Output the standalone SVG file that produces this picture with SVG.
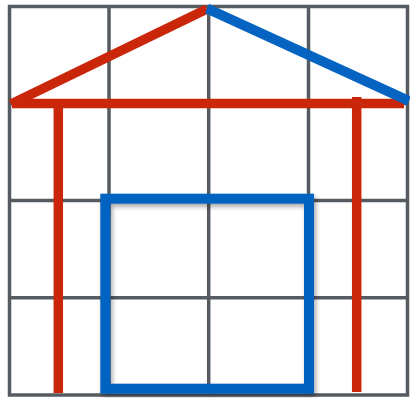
<svg xmlns="http://www.w3.org/2000/svg" width="410" height="398" viewBox="0 0 410 398">
<defs>
<style>
.grid{stroke:#565a61;stroke-width:3.5;fill:none}
.red{stroke:#c9260a;stroke-width:9.5;fill:none;stroke-linecap:butt}
.blue{stroke:#0563c1;stroke-width:10;fill:none}
</style>
<filter id="sh" x="-10%" y="-10%" width="130%" height="130%">
<feGaussianBlur in="SourceAlpha" stdDeviation="2.5"/>
<feOffset dx="2" dy="3" result="b"/>
<feComponentTransfer><feFuncA type="linear" slope="0.35"/></feComponentTransfer>
<feMerge><feMergeNode/><feMergeNode in="SourceGraphic"/></feMerge>
</filter>
</defs>
<rect width="410" height="398" fill="#ffffff"/>
<g id="grid" class="grid">
<rect x="9.5" y="6.5" width="398" height="388.5"/>
<line x1="109" y1="6.5" x2="109" y2="395"/>
<line x1="208.7" y1="6.5" x2="208.7" y2="395"/>
<line x1="308.5" y1="6.5" x2="308.5" y2="395"/>
<line x1="9.5" y1="103.6" x2="407.5" y2="103.6"/>
<line x1="9.5" y1="200.5" x2="407.5" y2="200.5"/>
<line x1="9.5" y1="297.8" x2="407.5" y2="297.8"/>
</g>
<g id="house-frame" class="red">
<line x1="58.3" y1="103" x2="58.3" y2="393"/>
<line x1="356.7" y1="97" x2="356.7" y2="392"/>
<line x1="12" y1="103.5" x2="404" y2="103.5"/>
<line x1="11" y1="104" x2="207" y2="9"/>
</g>
<g id="roof-right">
<line class="blue" x1="207" y1="8.5" x2="409" y2="101"/>
</g>
<g id="door" filter="url(#sh)">
<rect class="blue" x="105.3" y="198.7" width="203.7" height="190"/>
</g>
</svg>
